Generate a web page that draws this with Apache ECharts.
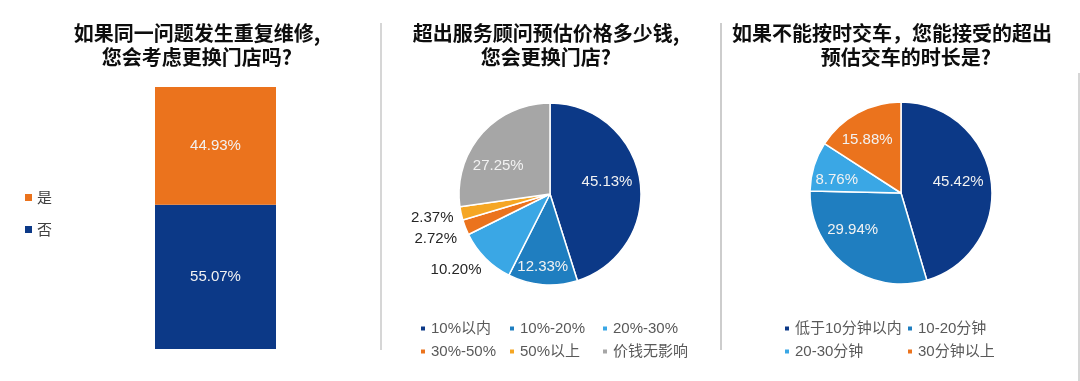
<!DOCTYPE html>
<html><head><meta charset="utf-8">
<script src="https://cdn.jsdelivr.net/npm/echarts@6/dist/echarts.min.js"></script>
<style>html,body{margin:0;padding:0;background:#fff}#c{width:1080px;height:381px}</style>
</head><body><div id="c"></div>
<script>
// ---- data ----
const barCategories = ['是', '否'];
const barValues = [44.93, 55.07];

const pie2Names = ['10%以内', '10%-20%', '20%-30%', '30%-50%', '50%以上', '价钱无影响'];
const pie2Values = [45.13, 12.33, 10.20, 2.72, 2.37, 27.25];

const pie3Names = ['低于10分钟以内', '10-20分钟', '20-30分钟', '30分钟以上'];
const pie3Values = [45.42, 29.94, 8.76, 15.88];

const titles = [
  '如果同一问题发生重复维修,\n您会考虑更换门店吗?',
  '超出服务顾问预估价格多少钱,\n您会更换门店?',
  '如果不能按时交车，您能接受的超出',
  '预估交车的时长是?'
];

// ---- styles ----
const C = {dark:'#0C3987', mid:'#1F7EC0', light:'#3AA7E5', orange:'#EB731D', yellow:'#F5A623', gray:'#A6A6A6'};
const FONT = '"Liberation Sans", Arial, "Noto Sans CJK SC", sans-serif';
const TFONT = '"Noto Sans CJK SC", sans-serif';
const pie2Colors = [C.dark, C.mid, C.light, C.orange, C.yellow, C.gray];
const pie3Colors = [C.dark, C.mid, C.light, C.orange];
// label placement: distance as fraction of radius, angular tweak in degrees
const pie2LabelR = [0.64, 0.81, 1.33, 1.35, 1.32, 0.65];
const pie2LabelA = [-3, 1, 5.7, 0, 1, -12];
const pie2LabelDark = [false, false, true, true, true, false];
const pie3LabelR = [0.64, 0.67, 0.72, 0.69];
const pie3LabelA = [-2.7, 15, -5.6, -4];

const P2 = {c:[550, 194], r:91};
const P3 = {c:[901, 193], r:91};

function pieData(names, values, colors, darkFlags) {
  return names.map((n, i) => ({
    name: n, value: values[i],
    itemStyle: {color: colors[i]},
    label: {color: darkFlags && darkFlags[i] ? '#262626' : '#F2F2F2'}
  }));
}
function polarLayout(P, ratios, shifts) {
  return function (params) {
    const lr = params.labelRect;
    const lx = lr.x + lr.width / 2, ly = lr.y + lr.height / 2;
    const ang = Math.atan2(ly - P.c[1], lx - P.c[0]) + shifts[params.dataIndex] * Math.PI / 180;
    const d = ratios[params.dataIndex] * P.r;
    return {dx: P.c[0] + d * Math.cos(ang) - lx, dy: P.c[1] + d * Math.sin(ang) - ly};
  };
}
function legendCol(left, top, names, gap) {
  return {
    left: left, top: top, orient: 'vertical', data: names, itemGap: gap,
    itemWidth: 6, itemHeight: 6, icon: 'rect', padding: 0,
    textStyle: {fontSize: 15, color: '#595959', fontFamily: FONT}
  };
}

const chart = echarts.init(document.getElementById('c'));
const tStyle = {fontSize: 20, fontWeight: 'bold', color: '#0d0d0d', fontFamily: TFONT, lineHeight: 23.5};

chart.setOption({
  animation: false,
  title: [
    {text: titles[0], left: 197, top: 22, textAlign: 'center', padding: 0, textStyle: tStyle},
    {text: titles[1], left: 546, top: 22, textAlign: 'center', padding: 0, textStyle: tStyle},
    {text: titles[2], left: 892, top: 22, textAlign: 'center', padding: 0, textStyle: tStyle},
    {text: titles[3], left: 906, top: 45.5, textAlign: 'center', padding: 0, textStyle: tStyle}
  ],
  legend: [
    {left: 25, top: 190, orient: 'vertical', data: barCategories, itemGap: 17,
     itemWidth: 7, itemHeight: 7, icon: 'rect', padding: 0,
     textStyle: {fontSize: 15, color: '#404040', fontFamily: TFONT}},
    legendCol(419, 321, [pie2Names[0], pie2Names[3]], 8),
    legendCol(508, 321, [pie2Names[1], pie2Names[4]], 8),
    legendCol(601, 321, [pie2Names[2], pie2Names[5]], 8),
    legendCol(783, 321, [pie3Names[0], pie3Names[2]], 8),
    legendCol(906, 321, [pie3Names[1], pie3Names[3]], 8)
  ],
  grid: {left: 155, width: 121, top: 87, bottom: 32},
  xAxis: {type: 'category', data: ['q'], show: false},
  yAxis: {type: 'value', min: 0, max: 100, show: false},
  series: [
    {name: barCategories[1], type: 'bar', stack: 's', barWidth: '100%', data: [barValues[1]],
     itemStyle: {color: C.dark},
     label: {show: true, position: 'inside', color: '#F2F2F2', fontSize: 15, fontFamily: FONT,
             formatter: p => p.value.toFixed(2) + '%'}},
    {name: barCategories[0], type: 'bar', stack: 's', barWidth: '100%', data: [barValues[0]],
     itemStyle: {color: C.orange},
     label: {show: true, position: 'inside', color: '#F2F2F2', fontSize: 15, fontFamily: FONT,
             formatter: p => p.value.toFixed(2) + '%'}},
    {type: 'pie', center: P2.c, radius: P2.r, startAngle: 90, clockwise: true,
     avoidLabelOverlap: false,
     data: pieData(pie2Names, pie2Values, pie2Colors, pie2LabelDark),
     itemStyle: {borderColor: '#fff', borderWidth: 1.5},
     label: {show: true, position: 'inside', fontSize: 15, fontFamily: FONT,
             formatter: p => p.value.toFixed(2) + '%'},
     labelLine: {show: false},
     labelLayout: polarLayout(P2, pie2LabelR, pie2LabelA),
     emphasis: {disabled: true}},
    {type: 'pie', center: P3.c, radius: P3.r, startAngle: 90, clockwise: true,
     avoidLabelOverlap: false,
     data: pieData(pie3Names, pie3Values, pie3Colors, null),
     itemStyle: {borderColor: '#fff', borderWidth: 1.5},
     label: {show: true, position: 'inside', fontSize: 15, fontFamily: FONT,
             formatter: p => p.value.toFixed(2) + '%'},
     labelLine: {show: false},
     labelLayout: polarLayout(P3, pie3LabelR, pie3LabelA),
     emphasis: {disabled: true}}
  ],
  graphic: [
    {type: 'line', shape: {x1: 381, y1: 23, x2: 381, y2: 350}, style: {stroke: '#C8C8C8', lineWidth: 1.5}},
    {type: 'line', shape: {x1: 721, y1: 23, x2: 721, y2: 350}, style: {stroke: '#BDBDBD', lineWidth: 1.5}},
    {type: 'line', shape: {x1: 1079, y1: 73, x2: 1079, y2: 381}, style: {stroke: '#C8C8C8', lineWidth: 1.5}}
  ]
});
</script></body></html>
